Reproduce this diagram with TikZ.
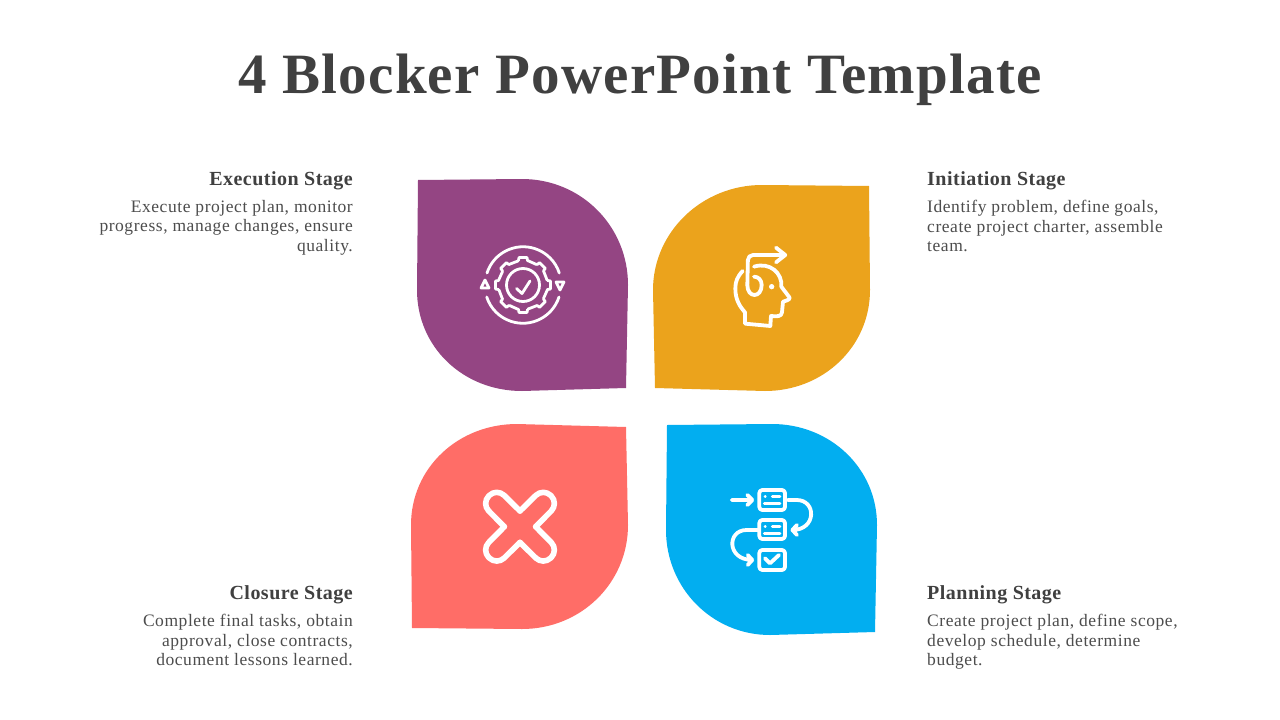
\documentclass[tikz,border=0pt]{standalone}
\usepackage{fontspec}
\usepackage{xcolor}
\setmainfont{Liberation Serif}
\definecolor{titlegrey}{HTML}{404040}
\definecolor{bodygrey}{HTML}{4D4D4D}
\definecolor{petalpurple}{HTML}{944583}
\definecolor{petalorange}{HTML}{EBA31C}
\definecolor{petalred}{HTML}{FF6D67}
\definecolor{petalblue}{HTML}{02AEF0}
\tikzset{
    main-title/.style = {anchor=base, text=titlegrey, font=\fontsize{57}{60}\selectfont\bfseries\addfontfeatures{LetterSpace=2.2}},
    stage-title/.style = {text=titlegrey, font=\fontsize{20}{24}\selectfont\bfseries\addfontfeatures{LetterSpace=2.4}},
    stage-text/.style = {text=bodygrey, font=\fontsize{17.5}{19.6}\selectfont\addfontfeatures{LetterSpace=3.2}, inner sep=0pt},
    icon-line/.style = {draw=white, line width=3.8pt, line cap=round, line join=round},
    icon-thin/.style = {draw=white, line width=2.8pt, line cap=round, line join=round},
}

\begin{document}
\begin{tikzpicture}[x=1pt,y=-1pt]
\useasboundingbox (0,0) rectangle (1280,720);
\fill[white] (0,0) rectangle (1280,720);

\node[main-title] (title) at (640,93) {4 Blocker PowerPoint Template};

% leaves
\fill[petalpurple] (418,180) -- (522,179) .. controls (581,179) and (628,226) .. (628,285) -- (626,388) -- (522,391) .. controls (463,391) and (417,347) .. (417,290) -- cycle;
\fill[petalorange] (869,186) -- (762,185) .. controls (702,185) and (653,232) .. (653,290) -- (655,388) -- (765,391) .. controls (823,391) and (870,347) .. (870,290) -- cycle;
\fill[petalred] (626,427) -- (517,424) .. controls (458,424) and (411,468) .. (411,525) -- (412,628) -- (522,629) .. controls (581,629) and (628,583) .. (628,525) -- cycle;
\fill[petalblue] (667,425) -- (772,424) .. controls (830,424) and (877,468) .. (877,525) -- (875,632) -- (770,635) .. controls (712,635) and (666,588) .. (666,530) -- cycle;

% execution icon
\begin{scope}[shift={(523,285)}]
\draw[icon-thin] (-36,-12) arc[start angle=198, end angle=342, radius=38];
\draw[icon-thin] (36,12) arc[start angle=18, end angle=162, radius=38];
\draw[icon-thin] (-38,-5) -- (-34,3) -- (-42,3) -- cycle;
\draw[icon-thin] (37,5) -- (33,-3) -- (41,-3) -- cycle;
\foreach \a in {0,45,...,315}
    \draw[icon-thin,rotate=\a] (-4.5,-24.5) -- (-4,-27.5) -- (4,-27.5) -- (4.5,-24.5) -- (13.5,-20.5);
\draw[icon-thin] (0,0) circle[radius=16.5];
\draw[icon-thin] (-6.5,3.5) -- (-1,8.5) -- (7,-4);
\end{scope}

% initiation icon
\begin{scope}[shift={(710,235)},scale=0.3333]
\draw[icon-line, rounded corners=5pt] (225,60) -- (114,60) -- (112,150);
\draw[icon-line] (112,150) .. controls (112,190) and (155,190) .. (155,150) .. controls (155,135) and (145,125) .. (132,125);
\draw[icon-line] (198,38) -- (226,60) -- (198,82);
\draw[icon-line] (132,95) .. controls (180,80) and (218,115) .. (214,155) -- (239,188) .. controls (240,195) and (225,198) .. (219,200) -- (216,232) .. controls (215,245) and (200,245) .. (183,243) -- (181,273) -- (105,266) -- (105,232) .. controls (90,215) and (76,195) .. (76,160) .. controls (76,140) and (82,125) .. (98,108);
\fill[white] (185,155) circle[radius=8];
\end{scope}

% closure icon
\begin{scope}[shift={(520,526.7)}]
\foreach \a in {0,90,180,270}
    \draw[draw=white, line width=5.6pt, line cap=round, line join=round, rounded corners=10.5pt, rotate=\a] (0,-15.7) -- (23.3,-38.7) -- (38.7,-23.3) -- (15.7,0);
\end{scope}

% planning icon
\begin{scope}[shift={(715,475)},scale=0.3333]
\draw[icon-line, rounded corners=3pt] (133,45) rectangle (210,105);
\draw[icon-line, rounded corners=3pt] (133,135) rectangle (210,192);
\draw[icon-line, rounded corners=3pt] (133,225) rectangle (210,285);
\draw[icon-thin] (150,65) -- (151,65) (172,65) -- (195,65) (148,85) -- (195,85);
\draw[icon-thin] (150,155) -- (151,155) (172,155) -- (195,155) (148,175) -- (195,175);
\draw[icon-line] (150,250) -- (165,265) -- (192,240);
\draw[icon-line] (50,75) -- (112,75) (97,60) -- (112,75) -- (97,90);
\draw[icon-line] (218,75) -- (245,75) .. controls (305,75) and (305,165) .. (232,165) (246,150) -- (232,165) -- (246,180);
\draw[icon-line] (128,165) -- (95,165) .. controls (35,165) and (35,255) .. (112,255) (98,240) -- (112,255) -- (98,270);
\end{scope}

% texts
\node[stage-title, anchor=base east, inner sep=0pt] (execution) at (353,185) {Execution Stage};
\node[stage-text, anchor=north east, align=right] (execution-text) at (353,200) {Execute project plan, monitor\\progress, manage changes, ensure\\quality.};
\node[stage-title, anchor=base west, inner sep=0pt] (initiation) at (927,185) {Initiation Stage};
\node[stage-text, anchor=north west, align=left] (initiation-text) at (927,200) {Identify problem, define goals,\\create project charter, assemble\\team.};
\node[stage-title, anchor=base east, inner sep=0pt] (closure) at (353,599) {Closure Stage};
\node[stage-text, anchor=north east, align=right] (closure-text) at (353,614) {Complete final tasks, obtain\\approval, close contracts,\\document lessons learned.};
\node[stage-title, anchor=base west, inner sep=0pt] (planning) at (927,599) {Planning Stage};
\node[stage-text, anchor=north west, align=left] (planning-text) at (927,614) {Create project plan, define scope,\\develop schedule, determine\\budget.};
\end{tikzpicture}
\end{document}
